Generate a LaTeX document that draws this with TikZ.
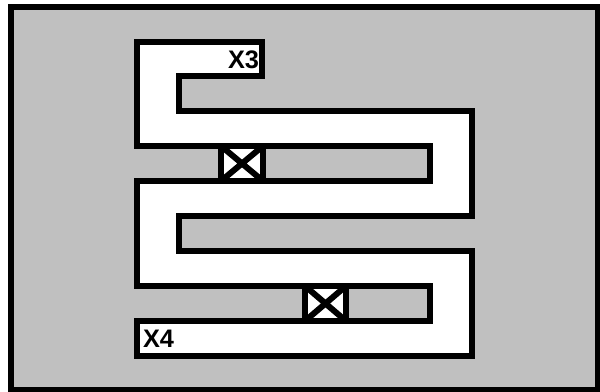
\documentclass[tikz,border=0pt]{standalone}
\usepackage{fontspec}
\setmainfont{Liberation Sans}
\definecolor{panelGrey}{RGB}{192,192,192}
\begin{document}
\begin{tikzpicture}[
    x=0.75pt, y=-0.75pt,
    wall/.style={draw=black, line width=4.5pt, line join=miter},
    lbl/.style={font=\fontsize{19}{21}\selectfont\bfseries, inner sep=0pt},
]
\useasboundingbox (0,0) rectangle (600,392);

% ========== FRAME ==========
\draw[wall, fill=panelGrey] (11,7) rectangle (598,390);

% ========== CHANNEL ==========
\draw[wall, fill=white] (137,42) -- (262,42) -- (262,76) -- (179,76) -- (179,111)
    -- (472,111) -- (472,216) -- (179,216) -- (179,251) -- (472,251) -- (472,356)
    -- (137,356) -- (137,321) -- (430,321) -- (430,286) -- (137,286) -- (137,181)
    -- (430,181) -- (430,146) -- (137,146) -- cycle;

% ========== CROSSED BOXES ==========
\draw[wall, fill=white] (221,146) rectangle (263,181);
\draw[wall] (221,146) -- (263,181) (221,181) -- (263,146);
\draw[wall, fill=white] (305,286) rectangle (346,321);
\draw[wall] (305,286) -- (346,321) (305,321) -- (346,286);

% ========== LABELS ==========
\node[lbl] at (243.5,60) (x3) {X3};
\node[lbl] at (158.5,339) (x4) {X4};

\end{tikzpicture}
\end{document}
